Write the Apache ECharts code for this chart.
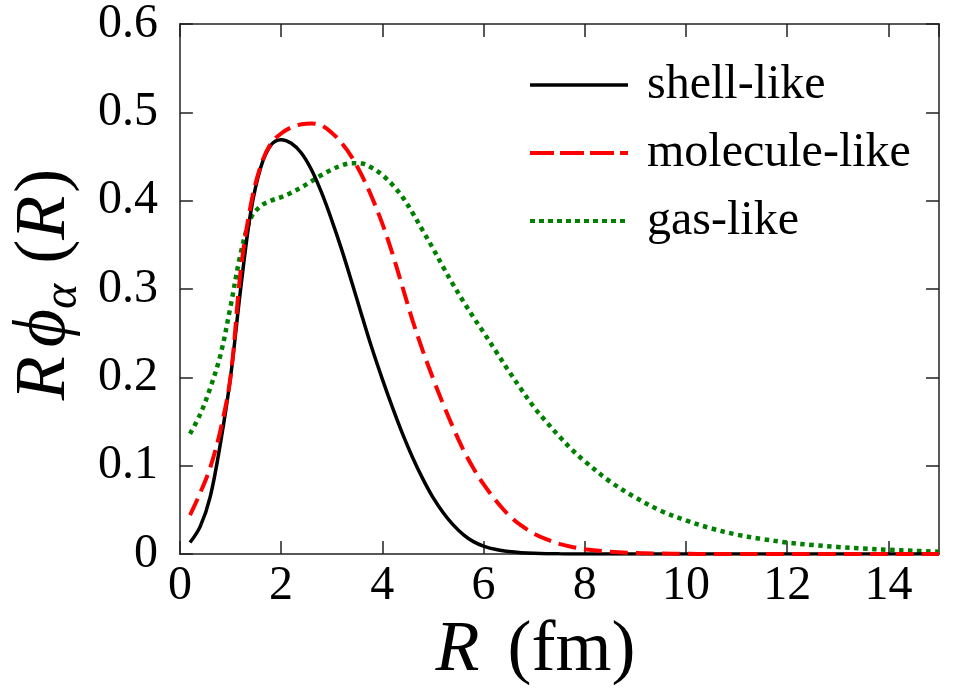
<!DOCTYPE html>
<html>
<head>
<meta charset="utf-8">
<script src="https://cdn.jsdelivr.net/npm/echarts@6/dist/echarts.min.js"></script>
<style>html,body{margin:0;padding:0;background:#fff}#c{width:953px;height:695px}</style>
</head>
<body>
<div id="c"></div>
<script>
const xs = [0.2,0.4,0.6,0.8,1.0,1.2,1.4,1.6,1.8,2.0,2.2,2.4,2.6,2.8,3.0,3.2,3.4,3.6,3.8,4.0,4.2,4.4,4.6,4.8,5.0,5.2,5.4,5.6,5.8,6.0,6.25,6.5,6.75,7.0,7.25,7.5,7.75,8.0,8.5,9.0,9.5,10,10.5,11,11.5,12,12.5,13,13.5,14,14.5,15];
const shellLike = [0.013,0.031,0.065,0.125,0.2,0.3,0.387,0.438,0.463,0.469,0.465,0.454,0.435,0.409,0.378,0.344,0.307,0.269,0.232,0.198,0.166,0.136,0.109,0.085,0.064,0.047,0.033,0.022,0.014,0.009,0.005,0.0028,0.0015,0.0008,0.0004,0.0002,0.0001,0.00005,0,0,0,0,0,0,0,0,0,0,0,0,0,0];
const moleculeLike = [0.044,0.069,0.098,0.14,0.2,0.32,0.395,0.44,0.465,0.476,0.483,0.4865,0.4875,0.485,0.477,0.465,0.449,0.428,0.403,0.374,0.34,0.302,0.264,0.23,0.199,0.17,0.143,0.118,0.097,0.079,0.06,0.044,0.032,0.023,0.0165,0.0115,0.008,0.0055,0.0026,0.0012,0.0005,0.0002,0.0001,0,0,0,0,0,0,0,0,0];
const gasLike = [0.136,0.158,0.188,0.225,0.28,0.34,0.38,0.394,0.4,0.404,0.409,0.415,0.422,0.429,0.435,0.44,0.4425,0.442,0.437,0.429,0.418,0.404,0.386,0.366,0.346,0.325,0.305,0.286,0.268,0.251,0.229,0.207,0.186,0.166,0.149,0.133,0.118,0.105,0.082,0.064,0.049,0.038,0.029,0.022,0.017,0.013,0.0102,0.008,0.0062,0.0048,0.0036,0.0026];
const seriesNames = ['shell-like','molecule-like','gas-like'];

const pairs = ys => xs.map((x,i)=>[x, ys[i]]);
const FONT = '"Liberation Serif", "DejaVu Serif", serif';
const axisCol = '#222';

const chart = echarts.init(document.getElementById('c'), null, {renderer:'canvas'});
const baseX = {
  type:'value', min:0, max:15, interval:2,
  axisLine:{show:true, onZero:false, lineStyle:{color:axisCol, width:1.5}},
  axisTick:{show:true, inside:true, length:13, lineStyle:{color:axisCol, width:1.5}},
  splitLine:{show:false}
};
const baseY = {
  type:'value', min:0, max:0.6, interval:0.1,
  axisLine:{show:true, onZero:false, lineStyle:{color:axisCol, width:1.5}},
  axisTick:{show:true, inside:true, length:13, lineStyle:{color:axisCol, width:1.5}},
  splitLine:{show:false}
};
chart.setOption({
  animation:false,
  backgroundColor:'#fff',
  grid:{left:179.5, right:14, top:22, bottom:141, containLabel:false},
  legend:{
    orient:'vertical', left:523, top:56,
    itemWidth:98, itemHeight:14, itemGap:20,
    itemStyle:{opacity:0},
    textStyle:{fontFamily:FONT, fontSize:48, color:'#000', padding:[0,0,0,14]},
    data:[
      {name:seriesNames[0], lineStyle:{color:'#000', width:3.5, type:'solid'}},
      {name:seriesNames[1], lineStyle:{color:'#ff0000', width:4, type:[24,6]}},
      {name:seriesNames[2], lineStyle:{color:'#008000', width:4, type:[5,4]}}
    ]
  },
  xAxis:[
    Object.assign({}, baseX, {
      position:'bottom',
      name:'{i|R}{n|(fm)}', nameLocation:'middle', nameGap:58,
      nameTextStyle:{rich:{
        i:{fontFamily:FONT, fontStyle:'italic', fontSize:72, color:'#000', padding:[0,28,0,0]},
        n:{fontFamily:FONT, fontSize:72, color:'#000'}
      }, padding:[0,48,0,0]},
      axisLabel:{fontFamily:FONT, fontSize:48, color:'#000', margin:8, showMaxLabel:false}
    }),
    Object.assign({}, baseX, {position:'top', axisLabel:{show:false}})
  ],
  yAxis:[
    Object.assign({}, baseY, {
      position:'left',
      name:'{i|R}{phi|ϕ}{sub|α}{n|(}{i2|R}{n|)}', nameLocation:'middle', nameGap:88, nameRotate:90,
      nameTextStyle:{rich:{
        i:{fontFamily:FONT, fontStyle:'italic', fontSize:72, color:'#000', lineHeight:84, padding:[0,9,0,0]},
        i2:{fontFamily:FONT, fontStyle:'italic', fontSize:72, color:'#000', lineHeight:84, padding:[0,3,0,0]},
        phi:{fontFamily:FONT, fontStyle:'italic', fontSize:74, color:'#000', lineHeight:84},
        n:{fontFamily:FONT, fontSize:72, color:'#000', lineHeight:84},
        sub:{fontFamily:FONT, fontStyle:'italic', fontSize:48, color:'#000', verticalAlign:'bottom', lineHeight:84, padding:[0,20,0,0]}
      }, padding:[0,0,0,9]},
      axisLabel:{fontFamily:FONT, fontSize:48, color:'#000', margin:22}
    }),
    Object.assign({}, baseY, {position:'right', axisLabel:{show:false}})
  ],
  series:[
    {name:seriesNames[0], type:'line', data:pairs(shellLike), showSymbol:false, symbol:'none',
     smooth:0.35, lineStyle:{color:'#000', width:3.5, type:'solid'}, itemStyle:{color:'#000'}, z:3},
    {name:seriesNames[1], type:'line', data:pairs(moleculeLike), showSymbol:false, symbol:'none',
     smooth:0.35, lineStyle:{color:'#ff0000', width:4, type:[18,8]}, itemStyle:{color:'#ff0000'}, z:4},
    {name:seriesNames[2], type:'line', data:pairs(gasLike), showSymbol:false, symbol:'none',
     smooth:0.35, lineStyle:{color:'#008000', width:4.5, type:[4.5,4.5]}, itemStyle:{color:'#008000'}, z:2}
  ]
});
</script>
</body>
</html>
